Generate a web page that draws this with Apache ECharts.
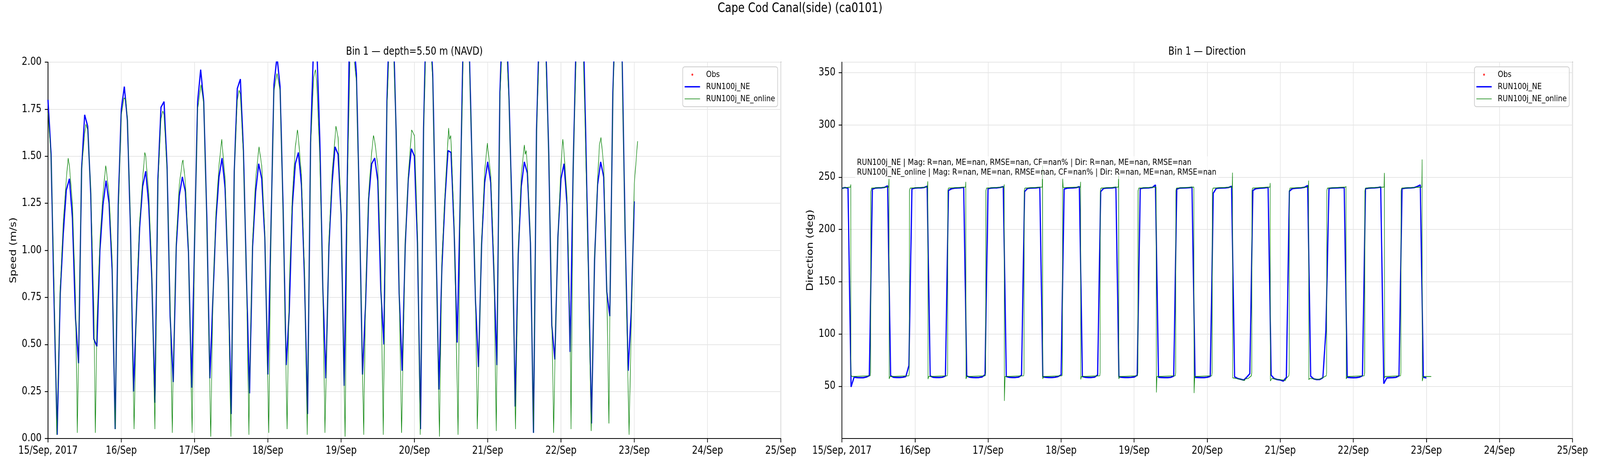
<!DOCTYPE html>
<html>
<head>
<meta charset="utf-8">
<script src="https://cdn.jsdelivr.net/npm/echarts@6/dist/echarts.min.js"></script>
<style>
html,body{margin:0;padding:0;background:#fff;overflow:hidden;}
#chart{width:5000px;height:1200px;transform-origin:0 0;}
</style>
</head>
<body>
<div id="chart"></div>
<script>
// ---------- data (x = hours since 15/Sep/2017 00:00) ----------
const DAY_LABELS = ['15/Sep, 2017','16/Sep','17/Sep','18/Sep','19/Sep','20/Sep','21/Sep','22/Sep','23/Sep','24/Sep','25/Sep'];

// RUN100j_NE speed, hourly from 15/Sep 00:00
const SPEED_MODEL = [
1.80,1.51,0.72,0.02,0.77,1.09,1.32,1.38,1.17,0.64,
0.40,1.43,1.72,1.66,1.30,0.53,0.49,1.00,1.24,1.37,
1.25,0.90,0.05,1.24,1.75,1.87,1.69,1.12,0.25,0.70,
1.12,1.34,1.42,1.24,0.85,0.19,1.38,1.76,1.79,1.44,
0.65,0.30,1.02,1.29,1.39,1.31,0.99,0.27,1.05,1.79,
1.96,1.79,1.18,0.32,0.74,1.16,1.39,1.49,1.33,0.85,
0.13,1.42,1.86,1.91,1.53,0.85,0.24,1.02,1.31,1.46,
1.38,1.07,0.34,1.10,1.88,2.03,1.87,1.22,0.39,0.67,
1.23,1.46,1.52,1.35,0.85,0.13,1.57,2.11,2.10,1.60,
0.80,0.32,1.02,1.35,1.55,1.51,1.19,0.28,1.35,2.43,
2.14,1.94,1.22,0.34,0.71,1.27,1.46,1.49,1.37,0.79,
0.50,1.79,2.32,2.24,1.64,0.77,0.36,1.03,1.38,1.54,
1.50,1.04,0.05,1.65,2.35,2.28,1.93,1.11,0.26,0.91,
1.27,1.53,1.52,1.11,0.51,1.27,2.15,2.35,2.05,1.38,
0.73,0.38,1.03,1.36,1.47,1.36,0.90,0.39,1.84,2.30,
2.25,1.80,1.18,0.17,0.98,1.34,1.47,1.41,1.04,0.03,
1.64,2.24,2.30,2.12,1.51,0.60,0.42,1.07,1.38,1.46,
1.24,0.46,1.44,2.14,2.45,2.40,1.69,0.90,0.08,0.95,
1.35,1.47,1.39,0.78,0.65,1.84,2.37,2.40,2.05,1.11,
0.36,0.67,1.26
];

// RUN100j_NE_online speed, [hour, value]
const SPEED_ONLINE = [
[0,1.73],[1,1.50],[2,0.80],[2.9,0.02],[4,0.80],[5,1.15],[6,1.38],[6.6,1.49],[7,1.45],[8,1.25],[9,0.75],[9.6,0.03],[10,0.45],
[11,1.43],[12,1.62],[12.4,1.67],[13,1.64],[14,1.32],[15,0.70],[15.5,0.03],[16,0.60],[17,1.05],[18,1.30],[18.9,1.45],[19,1.44],
[20,1.30],[21,0.95],[22,0.05],[23,1.20],[24,1.72],[24.9,1.81],[25.5,1.80],[26,1.70],[27,1.15],[27.5,0.60],[28.2,0.05],[29,0.75],
[30,1.15],[31,1.38],[31.7,1.52],[32,1.50],[33,1.30],[34,0.90],[35,0.05],[36,1.35],[37,1.70],[37.6,1.74],[38,1.72],[39,1.42],
[40,0.70],[40.7,0.03],[41,0.35],[42,1.05],[43,1.35],[44,1.47],[44.2,1.48],[45,1.36],[46,1.00],[47.2,0.03],[48,1.05],[49,1.75],
[50.1,1.88],[51,1.78],[52,1.15],[53.3,0.01],[54,0.75],[55,1.20],[56,1.45],[56.9,1.59],[57,1.57],[58,1.38],[59,0.85],[59.9,0.01],
[61,1.42],[62,1.80],[62.6,1.85],[63,1.83],[64,1.50],[65,0.85],[65.8,0.02],[66,0.30],[67,1.05],[68,1.38],[69.1,1.55],[70,1.45],
[71,1.10],[72.3,0.03],[73,1.10],[74,1.85],[75,1.94],[76,1.85],[77,1.20],[78.3,0.05],[79,0.80],[80,1.28],[81,1.55],[81.7,1.64],
[82,1.60],[83,1.40],[84,0.90],[84.9,0.02],[86,1.55],[87,1.92],[87.6,1.96],[88,1.90],[89,1.50],[90,0.80],[90.7,0.03],[92,1.05],
[93,1.40],[94.3,1.66],[95,1.60],[96,1.20],[97.3,0.01],[98,1.30],[99,2.10],[100,2.05],[101,1.90],[102,1.20],[103.4,0.02],[104,0.75],
[105,1.30],[106,1.52],[106.6,1.61],[107,1.58],[108,1.45],[109,0.90],[109.8,0.02],[111,1.75],[112,2.20],[113,2.15],[114,1.65],
[115,0.80],[115.8,0.03],[117,1.05],[118,1.40],[119.1,1.64],[120,1.61],[121,1.10],[121.9,0.02],[123,1.62],[124,2.25],[125,2.20],
[126,1.90],[127,1.10],[128.2,0.01],[129,0.95],[130,1.30],[131.2,1.65],[131.5,1.59],[131.9,1.61],[132,1.58],[133,1.15],[134.3,0.02],
[135,1.27],[136,2.05],[137,2.20],[138,2.00],[139,1.40],[140,0.75],[140.6,0.05],[142,1.05],[143,1.42],[143.9,1.57],[144,1.55],
[145,1.40],[146,0.95],[146.8,0.04],[148,1.80],[149,2.20],[150,2.15],[151,1.78],[152,1.15],[153.1,0.05],[154,1.00],[155,1.40],
[156,1.56],[156.3,1.51],[156.6,1.53],[157,1.45],[158,1.05],[159,0.03],[160,1.62],[161,2.15],[162,2.20],[163,2.05],[164,1.51],
[165,0.65],[165.6,0.03],[166,0.40],[167,1.07],[168,1.45],[168.6,1.59],[169,1.52],[170,1.28],[171,0.55],[171.3,0.05],[172,1.44],
[173,2.05],[174,2.30],[175,2.25],[176,1.60],[177,0.85],[177.9,0.04],[179,0.95],[180,1.38],[180.6,1.56],[181.1,1.60],[182,1.45],
[183,0.80],[183.7,0.08],[184,0.65],[185,1.82],[186,2.30],[187,2.30],[188,2.00],[189,1.10],[190.3,0.02],[191,0.58],[192,1.35],
[193.1,1.58]
];

// RUN100j_NE direction, hourly from 15/Sep 00:00
const DIR_MODEL = [
239.3,240,239.5,49.4,58.7,58.3,58.2,58.2,58.8,60.2,
238.5,239.6,239.8,239.8,240.2,241.7,60,58.5,58.4,58.4,
58.6,59.3,69.8,238.9,239.6,239.8,239.8,240.1,241.3,59.8,
58.5,58.4,58.4,58.6,59.8,237.3,238.9,239.5,239.7,239.8,
240.2,59.8,58.6,58.4,58.3,58.4,58.8,61,239,239.6,
239.8,239.8,240.2,240.9,59.3,58.5,58.4,58.4,58.7,60.5,
236.2,239.3,239.6,239.7,239.8,240.2,59,58.5,58.4,58.4,
58.6,59.3,60.8,238.6,239.5,239.7,239.8,240,240.9,59.3,
58.5,58.4,58.4,58.7,60.8,236.2,239.3,239.6,239.7,239.8,
240.3,59,58.5,58.4,58.4,58.5,58.8,60.5,239,239.6,
239.7,239.8,240.2,242.5,58.5,58.4,58.3,58.3,58.5,59.7,
238.6,239.6,239.7,239.8,239.9,240.3,58.5,58.4,58.3,58.3,
58.6,59.5,234.7,239.3,239.6,239.7,239.8,240.1,241.2,59,
57.4,56.7,55.9,58.7,62,237.3,239,239.4,239.6,239.8,
240.2,60.6,57.3,56.4,56,55,58.5,236.7,239,239.4,
239.6,239.8,240.3,242,59.5,57,56.4,56.5,58.2,104,
239.3,239.6,239.7,239.8,239.9,240,58.5,58.3,58.2,58.3,
58.7,60,239,239.5,239.7,239.8,240,240.5,52.5,58,
58.2,58.3,58.5,60,239,239.5,239.7,239.8,240,241,
242.5,58.7,58
];

// RUN100j_NE_online direction, [hour, value]
const DIR_ONLINE = [
[0,239.5],[2.8,240.5],[2.92,243],[2.97,60.5],[3.3,59.3],
[9.3,60],[9.42,63],[9.5,236],[9.7,239.5],
[15.35,240.5],[15.45,248.6],[15.52,57],[15.8,59.3],
[22.0,60],[22.12,63],[22.2,237],[22.4,239.5],
[28.1,240.5],[28.2,246],[28.27,56.8],[28.5,59.3],
[34.6,60],[34.72,63],[34.8,237],[35.0,239.5],
[40.6,240.5],[40.7,245.5],[40.77,57],[41.0,59.3],
[47.1,60],[47.22,63],[47.3,237],[47.5,239.5],
[53.2,240.5],[53.3,243],[53.37,36],[53.6,59.3],
[59.7,60],[59.82,63],[59.9,237],[60.1,239.5],
[65.8,240.5],[65.9,261],[65.97,57],[66.2,59.3],
[72.3,60],[72.42,63],[72.5,249],[72.7,240],
[78.3,240.5],[78.4,245.5],[78.47,56.5],[78.7,59.3],
[84.7,60],[84.82,63],[84.9,237],[85.1,239.5],
[90.8,240.5],[90.9,251.7],[90.97,57],[91.2,59.3],
[97.1,60],[97.22,63],[97.3,237],[97.5,239.5],
[103.2,240.5],[103.3,44],[103.5,59.3],
[109.5,60],[109.62,63],[109.7,237],[109.9,239.5],
[115.6,240.5],[115.7,43.5],[115.9,59.3],
[121.5,60],[121.62,63],[121.7,237],[121.9,239.5],
[128.2,240.5],[128.3,254.3],[128.37,58],[129.5,57.5],[131,56.5],[132.3,55.5],[132.5,57],[133.5,57.5],
[134.5,60],[134.62,63],[134.7,237],[134.9,239.5],
[140.6,240.5],[140.7,244.4],[140.77,55],[141.2,57.5],[143,56.5],[145,56],[145.6,55.3],[146,57.5],
[146.8,60],[146.92,63],[147.0,237],[147.2,239.5],
[153.2,240.5],[153.3,246.7],[153.37,56.3],[153.7,57.5],[155,57],[156.5,56.5],[157.5,57.5],
[159.1,60],[159.22,63],[159.3,237],[159.5,239.5],
[165.5,240.5],[165.6,241.3],[165.67,57],[166,59.3],
[171.6,60],[171.72,63],[171.8,237],[172,239.5],
[178.1,240.5],[178.2,254],[178.27,58],[178.5,59.3],
[183.5,60],[183.62,63],[183.7,237],[183.9,239.5],
[190.5,240.5],[190.6,266.9],[190.67,54.9],[191,59.3],
[193.6,59.3]
];

const OBS = []; // observations: none available (all NaN)

const ANNOTATION = [
'RUN100j_NE | Mag: R=nan, ME=nan, RMSE=nan, CF=nan% | Dir: R=nan, ME=nan, RMSE=nan',
'RUN100j_NE_online | Mag: R=nan, ME=nan, RMSE=nan, CF=nan% | Dir: R=nan, ME=nan, RMSE=nan'
];

// ---------- chart ----------
const FONT = 'DejaVu Sans';
const BLUE = '#0000ff', GREEN = '#008000', RED = '#ff0000';
const hourly = arr => arr.map((v, i) => [i, v]);

// the design is 5000x1200; if the real viewport is smaller, squeeze the whole picture into it
const box = document.getElementById('chart');
const sx = Math.min(1, window.innerWidth / 5000), sy = Math.min(1, window.innerHeight / 1200);
box.style.transform = 'scale(' + sx + ',' + sy + ')';

const chart = echarts.init(box, null, {renderer: 'canvas', width: 5000, height: 1200});

function xAxis(gridIndex) {
  return {
    type: 'value', gridIndex, min: 0, max: 240, interval: 24,
    axisLine: {show: true, onZero: false, lineStyle: {color: '#000', width: 2.2}},
    axisTick: {show: true, inside: false, length: 10, lineStyle: {color: '#000', width: 2.2}},
    axisLabel: {show: true, margin: 18, color: '#000', fontSize: 27.8, fontFamily: FONT,
      formatter: v => DAY_LABELS[Math.round(v / 24)] || ''},
    splitLine: {show: true, lineStyle: {color: '#e6e6e6', width: 2}}
  };
}

const lineSeries = (name, data, color, width, idx) => ({
  name, type: 'line', data, xAxisIndex: idx, yAxisIndex: idx,
  showSymbol: false, symbol: 'none', clip: true, sampling: 'none',
  lineStyle: {color, width}, itemStyle: {color}, animation: false, z: 2
});
const obsSeries = idx => ({
  name: 'Obs', type: 'scatter', data: OBS, xAxisIndex: idx, yAxisIndex: idx,
  symbolSize: 6, itemStyle: {color: RED}, animation: false
});

const ICON_OBS = 'path://M0,0M48,14M27,7L26.1,9.1L24,10L21.9,9.1L21,7L21.9,4.9L24,4L26.1,4.9Z';
const ICON_BLUE = 'path://M0,0M48,14M0,5.2L48,5.2L48,8.8L0,8.8Z';
const ICON_GREEN = 'path://M0,0M48,14M0,6.2L48,6.2L48,7.8L0,7.8Z';

function legend(right) {
  return {
    orient: 'vertical', right, top: 171,
    itemWidth: 48, itemHeight: 14, itemGap: 9,
    backgroundColor: 'rgba(255,255,255,0.8)', borderColor: '#cccccc', borderWidth: 2, borderRadius: 6,
    padding: [9, 8, 9, 6],
    textStyle: {fontSize: 22, fontFamily: FONT, color: '#000', lineHeight: 22},
    formatter: n => '  ' + n,
    selectedMode: false,
    data: [
      {name: 'Obs', icon: ICON_OBS},
      {name: 'RUN100j_NE', icon: ICON_BLUE},
      {name: 'RUN100j_NE_online', icon: ICON_GREEN}
    ]
  };
}

const titleStyle = size => ({fontSize: size, fontWeight: 'normal', fontFamily: FONT, color: '#000'});

const option = {
  backgroundColor: '#fff',
  animation: false,
  title: [
    {text: 'Cape Cod Canal(side) (ca0101)', left: 2500, textAlign: 'center', top: 6, padding: 0, textStyle: titleStyle(33)},
    {text: 'Bin 1 \u2014 depth=5.50 m (NAVD)', left: 1295, textAlign: 'center', top: 119, padding: 0, textStyle: titleStyle(27.8)},
    {text: 'Bin 1 \u2014 Direction', left: 3772, textAlign: 'center', top: 119, padding: 0, textStyle: titleStyle(27.8)}
  ],
  grid: [
    {left: 150, right: 2560, top: 159, bottom: 78, show: true, borderColor: '#000', borderWidth: 2.2, backgroundColor: 'transparent'},
    {left: 2631, right: 86, top: 159, bottom: 78, show: true, borderColor: '#000', borderWidth: 2.2, backgroundColor: 'transparent'}
  ],
  xAxis: [xAxis(0), xAxis(1)],
  yAxis: [
    {
      type: 'value', gridIndex: 0, min: 0, max: 2, interval: 0.25,
      name: 'Speed (m/s)', nameLocation: 'middle', nameGap: 93, nameRotate: 90,
      nameTextStyle: {fontSize: 27.8, fontFamily: FONT, color: '#000'},
      axisLine: {show: true, lineStyle: {color: '#000', width: 2.2}},
      axisTick: {show: true, inside: false, length: 10, lineStyle: {color: '#000', width: 2.2}},
      axisLabel: {margin: 20, color: '#000', fontSize: 27.8, fontFamily: FONT, formatter: v => v.toFixed(2)},
      splitLine: {show: true, lineStyle: {color: '#e6e6e6', width: 2}}
    },
    {
      type: 'value', gridIndex: 1, min: 0, max: 360, interval: 50,
      name: 'Direction (deg)', nameLocation: 'middle', nameGap: 84, nameRotate: 90,
      nameTextStyle: {fontSize: 27.8, fontFamily: FONT, color: '#000'},
      axisLine: {show: true, lineStyle: {color: '#000', width: 2.2}},
      axisTick: {show: true, inside: false, length: 10, lineStyle: {color: '#000', width: 2.2}},
      axisLabel: {margin: 20, color: '#000', fontSize: 27.8, fontFamily: FONT, showMinLabel: false, showMaxLabel: false,
        formatter: v => (v === 0 || v === 360) ? '' : String(v)},
      splitLine: {show: true, lineStyle: {color: '#e6e6e6', width: 2}}
    }
  ],
  legend: [legend(2570), legend(96)],
  series: [
    obsSeries(0),
    lineSeries('RUN100j_NE', hourly(SPEED_MODEL), BLUE, 3.7, 0),
    lineSeries('RUN100j_NE_online', SPEED_ONLINE, GREEN, 1.6, 0),
    obsSeries(1),
    lineSeries('RUN100j_NE', hourly(DIR_MODEL), BLUE, 3.7, 1),
    lineSeries('RUN100j_NE_online', DIR_ONLINE, GREEN, 1.6, 1)
  ],
  graphic: [
    {
      type: 'text', left: 2672, top: 400, z: 100,
      style: {
        text: ANNOTATION.join('\n'), font: '22px "DejaVu Sans"', fill: '#000', lineHeight: 25,
        backgroundColor: 'rgba(255,255,255,0.7)', padding: [4, 6]
      }
    }
  ]
};

chart.setOption(option);
</script>
</body>
</html>
